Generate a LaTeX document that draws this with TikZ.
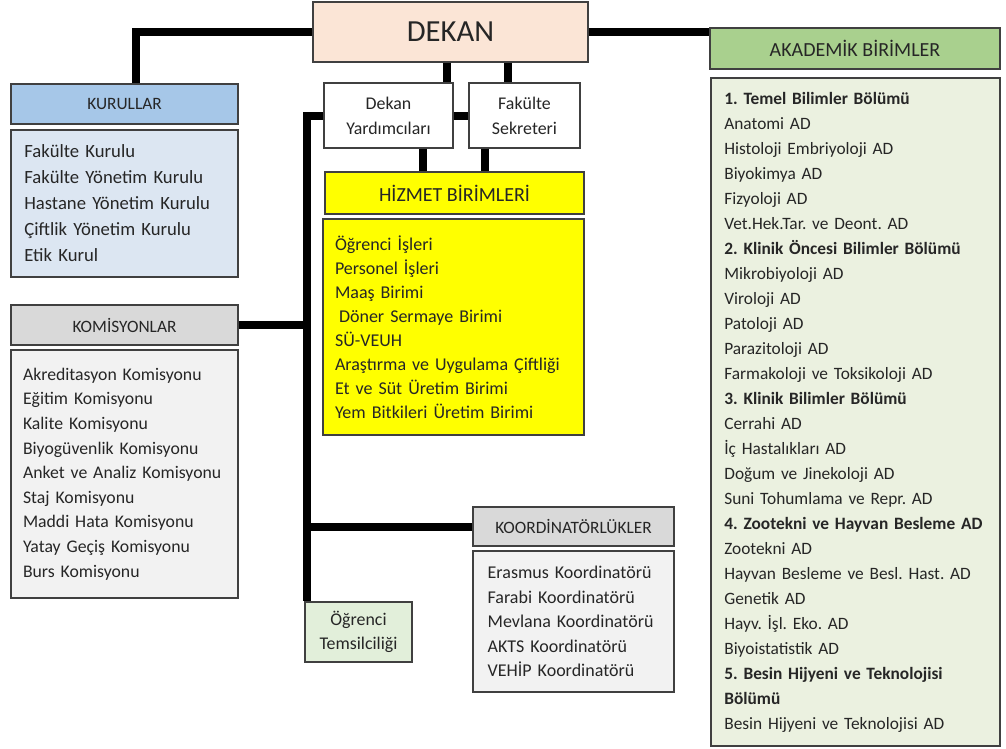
\documentclass[tikz,border=0pt]{standalone}
\usepackage{fontspec}
\setmainfont{Carlito}
\frenchspacing

\definecolor{boxline}{RGB}{64,64,64}
\definecolor{textgray}{RGB}{38,38,38}
\definecolor{dekanfill}{RGB}{251,229,214}
\definecolor{kurhead}{RGB}{166,199,232}
\definecolor{kurbody}{RGB}{220,230,242}
\definecolor{grayhead}{RGB}{217,217,217}
\definecolor{graybody}{RGB}{242,242,242}
\definecolor{hizfill}{RGB}{255,255,0}
\definecolor{temsilfill}{RGB}{226,239,218}
\definecolor{akhead}{RGB}{169,208,142}
\definecolor{akbody}{RGB}{235,241,224}

\tikzset{
  box/.style={draw=boxline, line width=1pt, text=textgray, inner sep=0pt},
  head/.style={box, align=center},
  list/.style={box, align=left, inner xsep=10pt},
  link/.style={line width=6pt},
}

\begin{document}
\begin{tikzpicture}[x=0.75pt, y=-0.75pt]
  \useasboundingbox (0,0) rectangle (1006,749);

  \node[head, fill=dekanfill, minimum width=206.25pt, minimum height=45pt,
        font=\fontsize{23}{28}\selectfont] (dekan) at (450.5,32) {DEKAN};

  \node[head, fill=kurhead, minimum width=170.25pt, minimum height=30pt,
        font=\fontsize{13}{16}\selectfont] (kurhead) at (124.5,104) {KURULLAR};
  \node[list, fill=kurbody, minimum width=170.25pt, minimum height=110.25pt,
        text width=150.25pt, font=\fontsize{14}{19.5}\selectfont] (kurbody) at (124.5,203.5)
        {Fakülte Kurulu\\Fakülte Yönetim Kurulu\\Hastane Yönetim Kurulu\\Çiftlik Yönetim Kurulu\\Etik Kurul};

  \node[head, fill=grayhead, minimum width=170.25pt, minimum height=30pt,
        font=\fontsize{13}{16}\selectfont] (komhead) at (124.5,325) {KOMİSYONLAR};
  \node[list, fill=graybody, inner xsep=9pt, minimum width=170.25pt, minimum height=186pt,
        text width=152.25pt, font=\fontsize{13.3}{18.45}\selectfont] (kombody) at (124.5,474)
        {Akreditasyon Komisyonu\\Eğitim Komisyonu\\Kalite Komisyonu\\Biyogüvenlik Komisyonu\\Anket ve Analiz Komisyonu\\Staj Komisyonu\\Maddi Hata Komisyonu\\Yatay Geçiş Komisyonu\\Burs Komisyonu};

  \node[head, fill=white, minimum width=96.75pt, minimum height=48.75pt,
        font=\fontsize{13.4}{18.75}\selectfont] (yard) at (388.5,115.5) {Dekan\\Yardımcıları};
  \node[head, fill=white, minimum width=83.25pt, minimum height=48.75pt,
        font=\fontsize{13.4}{18.75}\selectfont] (sekreter) at (524.5,115.5) {Fakülte\\Sekreteri};

  \node[head, fill=hizfill, minimum width=194.25pt, minimum height=31.5pt,
        font=\fontsize{15}{18}\selectfont] (hizhead) at (454.5,193) {HİZMET BİRİMLERİ};
  \node[list, fill=hizfill, inner xsep=9pt, minimum width=195.75pt, minimum height=162pt,
        text width=177.75pt, font=\fontsize{13.5}{18}\selectfont] (hizbody) at (453.5,327)
        {Öğrenci İşleri\\Personel İşleri\\Maaş Birimi\\\hspace*{3pt}Döner Sermaye Birimi\\SÜ-VEUH\\Araştırma ve Uygulama Çiftliği\\Et ve Süt Üretim Birimi\\Yem Bitkileri Üretim Birimi};

  \node[head, fill=grayhead, minimum width=150.75pt, minimum height=29.25pt,
        font=\fontsize{13}{16}\selectfont] (koohead) at (573.5,526.5) {KOORDİNATÖRLÜKLER};
  \node[list, fill=graybody, inner xsep=11pt, minimum width=150.75pt, minimum height=105.75pt,
        text width=128.75pt, font=\fontsize{13.5}{18.4}\selectfont] (koobody) at (573.5,621.5)
        {Erasmus Koordinatörü\\Farabi Koordinatörü\\Mevlana Koordinatörü\\AKTS Koordinatörü\\VEHİP Koordinatörü};

  \node[head, fill=temsilfill, minimum width=80.25pt, minimum height=45pt,
        font=\fontsize{13.4}{18}\selectfont] (temsil) at (358.5,632) {Öğrenci\\Temsilciliği};

  \node[head, fill=akhead, minimum width=217.5pt, minimum height=30.75pt,
        font=\fontsize{15}{18}\selectfont] (akhead) at (855,48.5) {AKADEMİK BİRİMLER};
  \node[list, fill=akbody, inner xsep=10pt, minimum width=216.75pt, minimum height=501pt,
        text width=196.75pt, font=\fontsize{13}{18.75}\selectfont] (akbody) at (855.5,412)
        {\textbf{1. Temel Bilimler Bölümü}\\Anatomi AD\\Histoloji Embriyoloji AD\\Biyokimya AD\\Fizyoloji AD\\Vet.Hek.Tar. ve Deont. AD\\
         \textbf{2. Klinik Öncesi Bilimler Bölümü}\\Mikrobiyoloji AD\\Viroloji AD\\Patoloji AD\\Parazitoloji AD\\Farmakoloji ve Toksikoloji AD\\
         \textbf{3. Klinik Bilimler Bölümü}\\Cerrahi AD\\İç Hastalıkları AD\\Doğum ve Jinekoloji AD\\Suni Tohumlama ve Repr. AD\\
         \textbf{4. Zootekni ve Hayvan Besleme AD}\\Zootekni AD\\Hayvan Besleme ve Besl. Hast. AD\\Genetik AD\\Hayv. İşl. Eko. AD\\Biyoistatistik AD\\
         \textbf{5. Besin Hijyeni ve Teknolojisi}\\\textbf{Bölümü}\\Besin Hijyeni ve Teknolojisi AD};

  \coordinate (kt) at ([xshift=8.6pt]kurhead.north);
  \coordinate (dy) at ([xshift=-2.6pt]dekan.south);
  \coordinate (ds) at ([xshift=43.1pt]dekan.south);
  \coordinate (yh) at ([xshift=25.9pt]yard.south);
  \coordinate (sh) at ([xshift=-29.6pt]sekreter.south);
  \coordinate (bus) at ([xshift=2.25pt]temsil.north west);

  \draw[link] (dekan.west) -| (kt);
  \draw[link] (dekan.east) -- (dekan.east -| akhead.west);
  \draw[link] (dy) -- (dy |- yard.north);
  \draw[link] (ds) -- (ds |- sekreter.north);
  \draw[link] (yard.east) -- (sekreter.west);
  \draw[link] (yh) -- (yh |- hizhead.north);
  \draw[link] (sh) -- (sh |- hizhead.north);
  \draw[link] (yard.west) -| (bus);
  \draw[link] (komhead.east) -- (komhead.east -| bus);
  \draw[link] (koohead.west) -- (koohead.west -| bus);
\end{tikzpicture}
\end{document}
